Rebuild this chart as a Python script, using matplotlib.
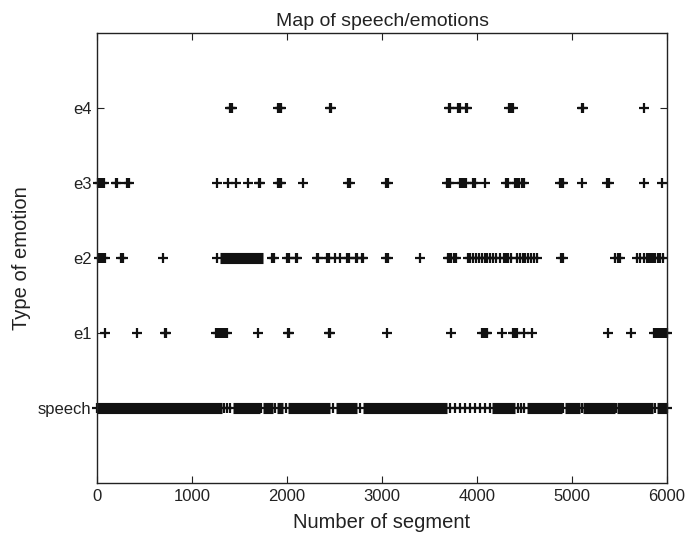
import matplotlib
matplotlib.use('Agg')
import matplotlib.pyplot as plt

plt.rcParams['font.family'] = ['Liberation Sans', 'DejaVu Sans']

# --- data (segment numbers) ---
levels = ['speech', 'e1', 'e2', 'e3', 'e4']

# dense stretches where markers overlap into a solid bar: (start, end)
speech_runs = [(0, 1312), (1435, 1716), (1751, 1856), (1891, 1954), (2014, 2453),
               (2516, 2733), (2796, 3681), (4154, 4400), (4523, 4891), (4926, 5084),
               (5116, 5453), (5474, 5853), (5891, 6000)]
speech_pts = [0, 1340, 1370, 1400, 1730, 1870, 1985, 2480, 2765, 3716, 3768, 3821,
              3874, 3926, 3979, 4032, 4084, 4137, 4432, 4460, 4495, 4905, 5100,
              5465, 5870, 6000]

e1_runs = []
e1_pts = [84, 421, 715, 730, 1250, 1270, 1290, 1310, 1330, 1350, 1370, 1695,
          2010, 2025, 2442, 2455, 3053, 3726, 4050, 4070, 4090, 4110, 4263,
          4380, 4400, 4420, 4495, 4579, 5379, 5621, 5860, 5880, 5900, 5920,
          5940, 5960, 5980, 6000]

e2_runs = [(1290, 1750)]
e2_pts = [20, 40, 60, 80, 255, 270, 695, 1263, 1845, 1860, 2000, 2020, 2095,
          2110, 2315, 2330, 2420, 2440, 2505, 2555, 2635, 2650, 2725, 2740,
          2790, 2805, 3045, 3060, 3400, 3690, 3710, 3730, 3760, 3780, 3905,
          3930, 3960, 3990, 4020, 4050, 4080, 4110, 4140, 4170, 4200, 4240,
          4280, 4300, 4330, 4360, 4420, 4450, 4480, 4510, 4540, 4570, 4600,
          4630, 4885, 4900, 5450, 5480, 5500, 5680, 5720, 5760, 5790, 5810,
          5830, 5850, 5870, 5900, 5930, 5960]

e3_runs = []
e3_pts = [10, 30, 50, 70, 200, 215, 320, 340, 1263, 1379, 1463, 1589, 1705,
          1720, 1910, 1925, 1940, 2168, 2645, 2660, 3045, 3060, 3680, 3700,
          3720, 3820, 3840, 3860, 3880, 3960, 3980, 4084, 4300, 4326, 4400,
          4421, 4440, 4470, 4490, 4870, 4890, 4910, 5100, 5370, 5385, 5758, 5947]

e4_runs = []
e4_pts = [1395, 1410, 1425, 1910, 1925, 1940, 2450, 2465, 3700, 3720, 3800,
          3820, 3880, 3895, 4340, 4360, 4380, 5100, 5115, 5760]

rows = [(speech_pts, speech_runs), (e1_pts, e1_runs), (e2_pts, e2_runs),
        (e3_pts, e3_runs), (e4_pts, e4_runs)]

fig = plt.figure(figsize=(6.89, 5.45), dpi=100)
ax = fig.add_axes([0.1408, 0.1138, 0.8273, 0.8257])

for i, (pts, runs) in enumerate(rows):
    y = i + 1
    for a, b in runs:
        ax.plot([a, b], [y, y], color='#111111', linewidth=8, solid_capstyle='butt',
                clip_on=False)
    ax.plot(pts, [y] * len(pts), linestyle='none', marker='+', color='#111111',
            markersize=7, markeredgewidth=1.6, clip_on=False)

ax.set_xlim(0, 6000)
ax.set_ylim(0, 6)
ax.set_xticks(range(0, 6001, 1000))
ax.set_yticks(range(1, 6))
ax.set_yticklabels(levels)
ax.tick_params(direction='in', length=5, width=0.8, top=True, right=True,
               labelsize=12, pad=4, colors='#222222')
for s in ax.spines.values():
    s.set_linewidth(1.0)
    s.set_color('#222222')

ax.set_title('Map of speech/emotions', fontsize=14, pad=5, color='#222222')
ax.set_xlabel('Number of segment', fontsize=14.5, labelpad=7, color='#222222')
ax.set_ylabel('Type of emotion', fontsize=14.5, labelpad=5, color='#222222')

fig.savefig('out.png', dpi=100)
